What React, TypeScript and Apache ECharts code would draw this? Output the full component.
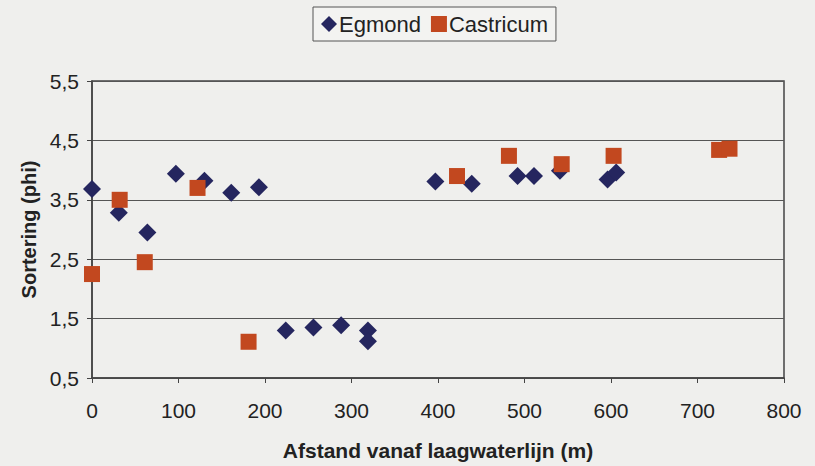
import React, { useEffect, useRef } from "react";
import * as echarts from "echarts";

const egmondX = [0, 31, 64, 97, 130, 161, 193, 224, 256, 288, 319, 319, 397, 439, 492, 511, 541, 596, 606];
const egmondY = [3.68, 3.28, 2.95, 3.94, 3.82, 3.62, 3.71, 1.3, 1.35, 1.39, 1.3, 1.12, 3.81, 3.77, 3.9, 3.9, 3.99, 3.84, 3.96];
const castricumX = [0, 32, 61, 122, 181, 422, 482, 543, 603, 725, 737];
const castricumY = [2.25, 3.5, 2.45, 3.7, 1.11, 3.9, 4.24, 4.1, 4.24, 4.34, 4.36];

const xTitle = "Afstand vanaf laagwaterlijn (m)";
const yTitle = "Sortering (phi)";

export default function App() {
  const ref = useRef<HTMLDivElement>(null);
  useEffect(() => {
    if (!ref.current) return;
    const chart = echarts.init(ref.current, null, { renderer: "svg" });
    const font = "'Liberation Sans', Arial, sans-serif";
    chart.setOption({
      animation: false,
      backgroundColor: "#efefed",
      textStyle: { fontFamily: font },
      legend: {
        left: 313,
        top: 7,
        itemGap: 10,
        itemWidth: 16,
        itemHeight: 16,
        padding: [6, 8, 6, 8],
        borderColor: "#555",
        borderWidth: 1,
        backgroundColor: "#f3f3f1",
        textStyle: { fontSize: 22, color: "#222", fontFamily: font, padding: [0, 0, 0, -3] },
        data: [
          { name: "Egmond", icon: "diamond" },
          { name: "Castricum", icon: "rect" },
        ],
      },
      grid: {
        left: 92,
        right: 31,
        top: 81,
        bottom: 84,
        show: true,
        borderColor: "#444",
        borderWidth: 1.5,
        backgroundColor: "transparent",
      },
      xAxis: {
        type: "value",
        min: 0,
        max: 800,
        interval: 100,
        name: xTitle,
        nameLocation: "middle",
        nameGap: 62,
        nameTextStyle: { fontSize: 21, fontWeight: "bold", color: "#222", fontFamily: font },
        axisLine: { show: true, lineStyle: { color: "#444", width: 1.5 } },
        axisTick: { show: true, length: 5, lineStyle: { color: "#444" } },
        axisLabel: { fontSize: 21, color: "#222", margin: 22, fontFamily: font },
        splitLine: { show: false },
      },
      yAxis: {
        type: "value",
        min: 0.5,
        max: 5.5,
        interval: 1,
        name: yTitle,
        nameLocation: "middle",
        nameGap: 52,
        nameTextStyle: { fontSize: 20, fontWeight: "bold", color: "#222", fontFamily: font },
        axisLine: { show: true, lineStyle: { color: "#444", width: 1.5 } },
        axisTick: { show: true, length: 5, lineStyle: { color: "#444" } },
        axisLabel: {
          fontSize: 21,
          color: "#222",
          margin: 13,
          fontFamily: font,
          formatter: (v: number) => v.toFixed(1).replace(".", ","),
        },
        splitLine: { show: true, lineStyle: { color: "#555", width: 1.2 } },
      },
      series: [
        {
          name: "Egmond",
          type: "scatter",
          symbol: "diamond",
          symbolSize: 18,
          itemStyle: { color: "#25265f", opacity: 1 },
          data: egmondX.map((x, i) => [x, egmondY[i]]),
        },
        {
          name: "Castricum",
          type: "scatter",
          symbol: "rect",
          symbolSize: 16,
          itemStyle: { color: "#c2481f", opacity: 1 },
          data: castricumX.map((x, i) => [x, castricumY[i]]),
        },
      ],
    });
    return () => chart.dispose();
  }, []);
  return (
    <div
      ref={ref}
      style={{ position: "fixed", left: 0, top: 0, width: 815, height: 466 }}
    />
  );
}
